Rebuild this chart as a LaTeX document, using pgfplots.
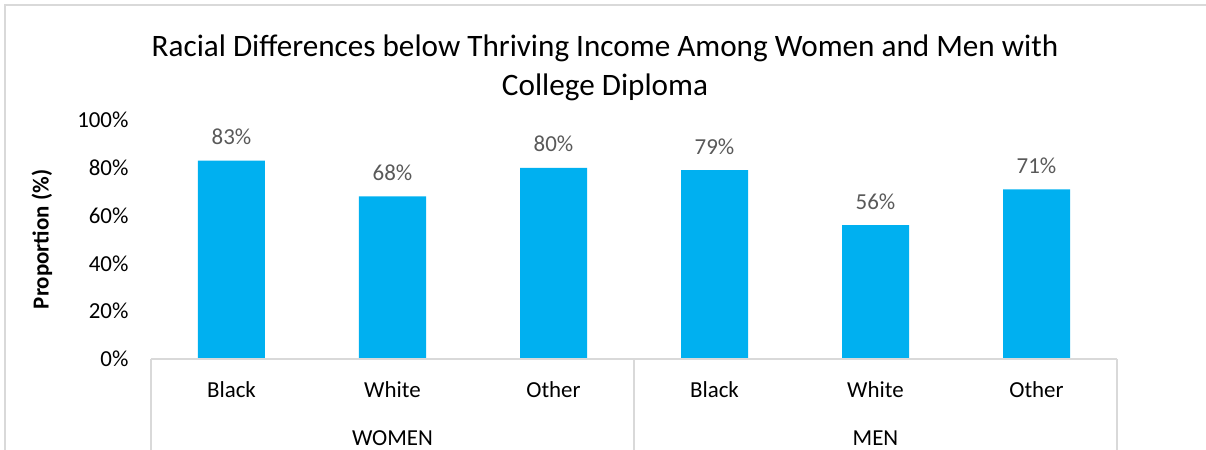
\documentclass[border=0pt]{standalone}
\usepackage{pgfplots}
\pgfplotsset{compat=1.18}
\usepackage{fontspec}
\setmainfont{Carlito}
\definecolor{barblue}{HTML}{00B0F0}
\definecolor{lblgray}{HTML}{595959}
\definecolor{linegray}{HTML}{D9D9D9}
\begin{document}
\begin{tikzpicture}
\useasboundingbox (-151bp,-91bp) rectangle (1055bp,359bp);
\draw[linegray, line width=1.5bp] (-146bp,-91bp) -- (-146bp,354bp) -- (1055bp,354bp);
\node[anchor=base, font=\fontsize{31.3}{31.3}\selectfont] at (454bp,302bp) {Racial Differences below Thriving Income Among Women and Men with};
\node[anchor=base, font=\fontsize{31.3}{31.3}\selectfont] at (454bp,263bp) {College Diploma};
\begin{axis}[
  at={(0,0)}, anchor=south west,
  scale only axis, width=966bp, height=239bp,
  xmin=-0.5, xmax=5.5, ymin=0, ymax=100,
  ybar, bar width=67bp,
  axis line style={draw=none},
  clip=false,
  major tick length=0pt,
  /pgf/number format/assume math mode=true,
  ytick={0,20,...,100},
  yticklabel={\pgfmathprintnumber{\tick}\%},
  yticklabel style={anchor=east, xshift=-19bp, font=\fontsize{23}{23}\selectfont},
  xtick={0,...,5},
  xticklabels={Black,White,Other,Black,White,Other},
  xticklabel style={anchor=base, yshift=-38bp, font=\fontsize{23}{23}\selectfont},
  ylabel={Proportion (\%)},
  every axis y label/.style={at={(rel axis cs:0,0.5)}, xshift=-109bp, rotate=90, anchor=center, font=\fontsize{23}{23}\selectfont\bfseries},
  nodes near coords={\pgfmathprintnumber{\pgfplotspointmeta}\%},
  every node near coord/.append style={anchor=base, yshift=16bp, text=lblgray, font=\fontsize{23}{23}\selectfont},
]
\addplot[fill=barblue, draw=none] coordinates {(0,83) (1,68) (2,80) (3,79) (4,56) (5,71)};
\draw[linegray, line width=1.5bp] (axis cs:-0.5,0) -- (axis cs:5.5,0);
\draw[linegray, line width=1.5bp] (axis cs:-0.5,0) -- ++(0pt,-91bp);
\draw[linegray, line width=1.5bp] (axis cs:2.5,0) -- ++(0pt,-91bp);
\draw[linegray, line width=1.5bp] (axis cs:5.5,0) -- ++(0pt,-91bp);
\node[anchor=base, font=\fontsize{23}{23}\selectfont] at ([yshift=-86bp]axis cs:1,0) {WOMEN};
\node[anchor=base, font=\fontsize{23}{23}\selectfont] at ([yshift=-86bp]axis cs:4,0) {MEN};
\end{axis}
\end{tikzpicture}
\end{document}
